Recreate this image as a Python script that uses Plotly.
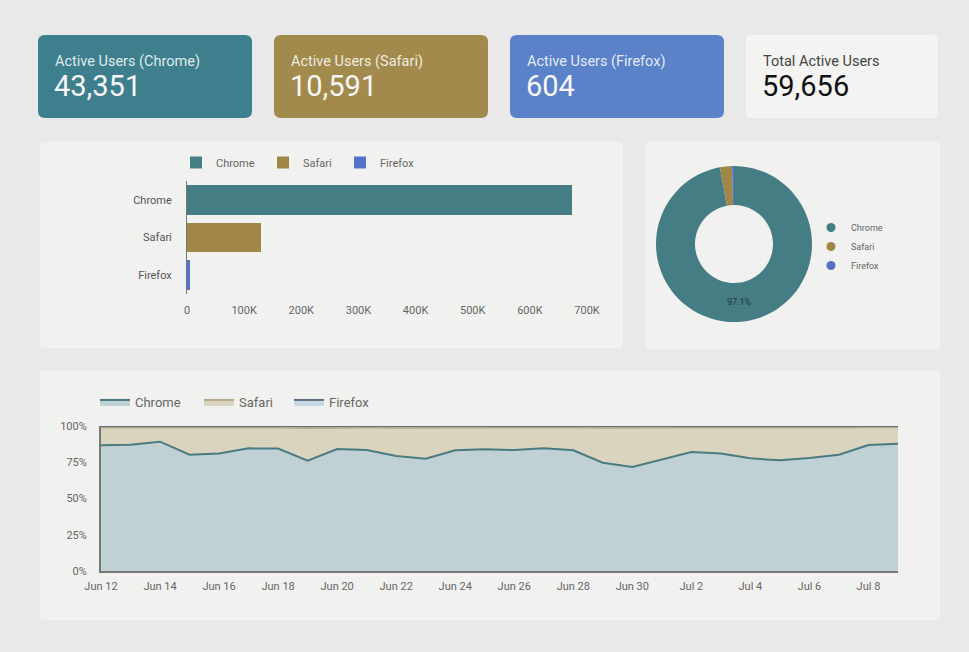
import plotly.graph_objects as go
import pandas as pd

W, H = 969, 652

# KPI cards
kpi_labels = ["Active Users (Chrome)", "Active Users (Safari)", "Active Users (Firefox)", "Total Active Users"]
kpi_values = ["43,351", "10,591", "604", "59,656"]

# bar chart
browsers = ["Chrome", "Safari", "Firefox"]
bar_values = [674000, 130000, 5000]

# donut (share of users, %)
pie_values = [97.1, 2.5, 0.4]

# 100% stacked area, daily share in %
dates = pd.date_range("2020-06-12", "2020-07-09", freq="D")
chrome_pct = [86.7, 87.1, 89.2, 80.2, 81.1, 84.6, 84.4, 76.1, 84.1, 83.4, 79.3, 77.5, 83.2, 83.9,
              83.4, 84.6, 83.2, 74.7, 71.7, 77.0, 82.1, 81.1, 77.7, 76.3, 77.9, 80.2, 86.9, 87.8]
safari_pct = [12.2, 11.9, 9.9, 18.6, 17.8, 14.4, 14.6, 22.6, 14.9, 15.5, 19.5, 21.4, 15.8, 15.1,
              15.6, 14.5, 15.8, 24.1, 27.0, 21.9, 16.9, 17.9, 21.2, 22.5, 21.0, 18.8, 12.2, 11.3]
firefox_pct = [1.1, 1.0, 0.9, 1.2, 1.1, 1.0, 1.0, 1.3, 1.0, 1.1, 1.2, 1.1, 1.0, 1.0,
               1.0, 0.9, 1.0, 1.2, 1.3, 1.1, 1.0, 1.0, 1.1, 1.2, 1.1, 1.0, 0.9, 0.9]
pct_ticks = [0, 25, 50, 75, 100]

card_colors = ["#3e7f8e", "#a28a4c", "#5b82c8", "#f3f3f1"]
bar_colors = ["#447d84", "#a08748", "#5470c8"]
BG = "#e8e9e8"


def px(x):
    return x / W


def py(y):
    return 1 - y / H


def rrect(x0, y0, x1, y1, r, color):
    # rounded rectangle in pixel coords -> paper path
    p = (f"M {px(x0 + r)},{py(y0)} L {px(x1 - r)},{py(y0)} Q {px(x1)},{py(y0)} {px(x1)},{py(y0 + r)} "
         f"L {px(x1)},{py(y1 - r)} Q {px(x1)},{py(y1)} {px(x1 - r)},{py(y1)} "
         f"L {px(x0 + r)},{py(y1)} Q {px(x0)},{py(y1)} {px(x0)},{py(y1 - r)} "
         f"L {px(x0)},{py(y0 + r)} Q {px(x0)},{py(y0)} {px(x0 + r)},{py(y0)} Z")
    return dict(type="path", path=p, xref="paper", yref="paper", fillcolor=color,
                line=dict(width=0), layer="below")


def leg(x, y, size, orientation="h"):
    return dict(x=px(x), y=py(y), xanchor="left", yanchor="top", orientation=orientation,
                bgcolor="rgba(0,0,0,0)", font=dict(size=size, color="#666666"), tracegroupgap=0)


fig = go.Figure()

# bars, one legend per item so the spacing can follow the original
bar_legends = ["legend", "legend2", "legend3"]
for i, b in enumerate(browsers):
    fig.add_trace(go.Bar(x=[bar_values[i]], y=[b], orientation="h", name=b,
                         marker=dict(color=bar_colors[i], line=dict(width=0)),
                         legend=bar_legends[i], xaxis="x", yaxis="y"))

# donut
fig.add_trace(go.Pie(labels=browsers, values=pie_values, hole=0.5, sort=False, direction="clockwise",
                     rotation=0, marker=dict(colors=bar_colors),
                     texttemplate=["%{percent:.1%}", "", ""], textposition="inside",
                     insidetextorientation="horizontal", textfont=dict(size=9, color="#1e3a40"),
                     showlegend=False,
                     domain=dict(x=[px(656), px(812)], y=[py(322), py(166)])))
# circle legend for donut
for i, b in enumerate(browsers):
    fig.add_trace(go.Scatter(x=[None], y=[None], mode="markers", name=b,
                             marker=dict(color=bar_colors[i], size=9, symbol="circle"),
                             legend="legend4", xaxis="x", yaxis="y"))

# stacked area
area_fill = ["#bfd1d5", "#dad4bf", "#c9d6e4"]
area_line = ["#4a7b80", "#b5ab88", "#5f6f80"]
area_legends = ["legend5", "legend6", "legend7"]
for name, vals, fc, lc, lg in zip(browsers, [chrome_pct, safari_pct, firefox_pct], area_fill, area_line, area_legends):
    fig.add_trace(go.Scatter(x=dates, y=vals, name=name, mode="lines", stackgroup="one",
                             groupnorm="percent", fillcolor=fc, line=dict(color=lc, width=2),
                             legend=lg, xaxis="x3", yaxis="y3"))

shapes = [
    rrect(38, 35, 252, 118, 7, card_colors[0]),
    rrect(274, 35, 488, 118, 7, card_colors[1]),
    rrect(510, 35, 724, 118, 7, card_colors[2]),
    rrect(746, 35, 938, 118, 4, card_colors[3]),
    rrect(40, 142, 623, 348, 4, "#f1f1f0"),
    rrect(646, 142, 940, 350, 4, "#f1f1f0"),
    rrect(40, 370, 940, 620, 4, "#f1f1f0"),
]

annotations = []
card_x = [55, 291, 527, 763]
for i in range(4):
    lab_col = "rgba(255,255,255,0.85)" if i < 3 else "#444444"
    val_col = "#f7f7f7" if i < 3 else "#111111"
    annotations.append(dict(x=px(card_x[i] - 2), y=py(61), xref="paper", yref="paper", text=kpi_labels[i],
                            showarrow=False, xanchor="left", yanchor="middle",
                            font=dict(size=14.5, color=lab_col)))
    annotations.append(dict(x=px(card_x[i] - 3), y=py(86), xref="paper", yref="paper", text=kpi_values[i],
                            showarrow=False, xanchor="left", yanchor="middle",
                            font=dict(size=29, color=val_col)))

fig.update_layout(
    width=W, height=H, margin=dict(l=0, r=0, t=0, b=0, autoexpand=False),
    paper_bgcolor=BG, plot_bgcolor="rgba(0,0,0,0)",
    font=dict(family="Roboto, sans-serif", color="#555555", size=11),
    barmode="stack", bargap=0.22,
    shapes=shapes, annotations=annotations,
    xaxis=dict(domain=[px(187), px(587)], range=[0, 700000],
               tickvals=[0, 100000, 200000, 300000, 400000, 500000, 600000, 700000],
               ticktext=["0", "100K", "200K", "300K", "400K", "500K", "600K", "700K"],
               showgrid=False, zeroline=False, showline=False, ticks="", ticklabelstandoff=8,
               anchor="y", tickfont=dict(size=11, color="#666666")),
    yaxis=dict(domain=[py(294), py(181)], categoryorder="array", categoryarray=browsers, autorange="reversed",
               showgrid=False, zeroline=False, showline=True, linecolor="#777777", linewidth=1,
               ticks="", ticklabelstandoff=12, anchor="x", tickfont=dict(size=11, color="#555555")),
    xaxis3=dict(domain=[px(101), px(898)], range=[dates[0], dates[-1]], type="date",
                tick0=dates[0], dtick=2 * 86400000, tickformat="%b %-d",
                showgrid=False, zeroline=False, showline=True, linecolor="#777777", linewidth=2,
                ticks="", ticklabelstandoff=4, anchor="y3", tickfont=dict(size=11, color="#666666")),
    yaxis3=dict(domain=[py(571), py(426)], range=[0, 100], tickvals=pct_ticks,
                ticktext=[f"{v}%" for v in pct_ticks],
                showgrid=False, zeroline=False, showline=True, linecolor="#777777", linewidth=2,
                ticks="", ticklabelstandoff=10, anchor="x3", tickfont=dict(size=11, color="#666666")),
    legend=leg(176, 148, 11),
    legend2=leg(263, 148, 11),
    legend3=leg(340, 148, 11),
    legend4=leg(811, 213, 9, "v"),
    legend5=leg(95, 387, 13),
    legend6=leg(199, 387, 13),
    legend7=leg(289, 387, 13),
)

fig.write_html("out.html", config={"displayModeBar": False},
               post_script=f"document.body.style.margin='0';document.body.style.background='{BG}';")
